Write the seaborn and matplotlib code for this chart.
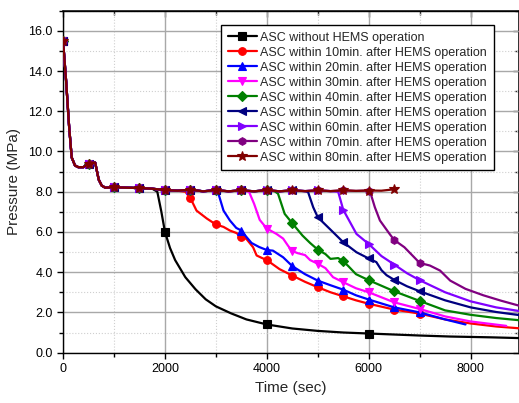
import matplotlib
matplotlib.use("Agg")
import matplotlib.pyplot as plt
import seaborn as sns
from matplotlib.ticker import MultipleLocator, FormatStrFormatter

# shared trace before any series splits off
BASE_T = [0, 60, 120, 170, 235, 300, 400, 500, 560, 630, 700, 760, 830, 1000, 1250, 1500, 1750,
          2000, 2250, 2500, 2750, 3000, 3250, 3500, 3750, 4000, 4250, 4500, 4750, 5000, 5250,
          5500, 5750, 6000, 6250, 6500]
BASE_P = [15.5, 13.5, 11.2, 9.7, 9.3, 9.22, 9.22, 9.4, 9.45, 9.45, 8.6, 8.3, 8.2, 8.22, 8.2, 8.18, 8.15,
          8.08, 8.05, 8.1, 8.02, 8.08, 8.02, 8.07, 8.02, 8.08, 8.02, 8.07, 8.03, 8.07, 8.03,
          8.07, 8.04, 8.06, 8.05, 8.12]

LABELS = ["ASC without HEMS operation",
          "ASC within 10min. after HEMS operation",
          "ASC within 20min. after HEMS operation",
          "ASC within 30min. after HEMS operation",
          "ASC within 40min. after HEMS operation",
          "ASC within 50min. after HEMS operation",
          "ASC within 60min. after HEMS operation",
          "ASC within 70min. after HEMS operation",
          "ASC within 80min. after HEMS operation"]
COLORS = ["#000000", "#ff0000", "#0000ff", "#ff00ff", "#008000", "#000080", "#8000ff", "#800080", "#800000"]
MARKERS = ["s", "o", "^", "v", "D", "<", ">", "h", "*"]
MARK_STEP = [2000, 500, 500, 500, 500, 500, 500, 500, 500]
# last shared time before each curve departs
SPLIT = [1750, 2250, 3000, 3500, 4000, 4750, 5250, 6000, 6500]

T_BLACK = [1850, 1930, 2000, 2100, 2200, 2400, 2600, 2800, 3000, 3300, 3600, 4000, 4500, 5000, 5500, 6000, 7000, 7600, 8400, 9000]
P_BLACK = [8.0, 7.0, 6.0, 5.2, 4.6, 3.75, 3.15, 2.65, 2.3, 1.95, 1.65, 1.4, 1.2, 1.08, 1.0, 0.95, 0.85, 0.8, 0.76, 0.72]
T_10 = [2400, 2500, 2620, 2820, 3000, 3150, 3275, 3400, 3500, 3600, 3730, 3800, 3900, 4000, 4250, 4500, 4750, 5000,
        5250, 5500, 5750, 6000, 6500, 7000, 7500, 8000, 8500, 9000]
P_10 = [8.0, 7.68, 7.06, 6.67, 6.37, 6.25, 6.07, 5.95, 5.77, 5.65, 5.24, 4.83, 4.71, 4.6, 4.15, 3.83, 3.52, 3.25,
        3.0, 2.8, 2.6, 2.43, 2.14, 1.94, 1.65, 1.45, 1.3, 1.2]
T_20 = [3050, 3150, 3275, 3400, 3500, 3600, 3700, 3850, 4000, 4120, 4320, 4500, 4750, 5000, 5250, 5500, 5750, 6000,
        6500, 7000, 7500, 7900]
P_20 = [7.9, 7.06, 6.57, 6.2, 6.07, 5.75, 5.45, 5.25, 5.1, 5.07, 4.74, 4.3, 3.9, 3.58, 3.35, 3.13, 2.85, 2.64,
        2.25, 2.0, 1.65, 1.4]
T_30 = [3650, 3750, 3860, 4000, 4190, 4320, 4420, 4500, 4600, 4750, 4850, 5000, 5150, 5300, 5500, 5750, 6000,
        6500, 7000, 7500, 8000, 8700]
P_30 = [8.0, 7.4, 6.6, 6.17, 5.9, 5.67, 5.3, 5.05, 4.95, 4.85, 4.6, 4.42, 4.2, 3.75, 3.5, 3.2, 3.0,
        2.5, 2.17, 1.8, 1.55, 1.33]
T_40 = [4150, 4220, 4350, 4500, 4700, 4850, 5000, 5150, 5250, 5400, 5500, 5600, 5750, 6000, 6500, 7000, 7500,
        8000, 8500, 9000]
P_40 = [8.03, 7.9, 6.9, 6.43, 5.82, 5.45, 5.12, 4.9, 4.66, 4.7, 4.54, 4.3, 3.9, 3.6, 3.05, 2.57, 2.1,
        1.88, 1.72, 1.6]
T_50 = [4810, 4910, 5000, 5235, 5500, 5760, 6000, 6150, 6250, 6350, 6500, 6750, 7000, 7500, 8000, 8500, 9000]
P_50 = [7.98, 7.23, 6.73, 6.15, 5.49, 4.99, 4.68, 4.5, 4.1, 3.85, 3.62, 3.3, 3.05, 2.6, 2.25, 2.02, 1.85]
T_60 = [5400, 5430, 5500, 5760, 6000, 6250, 6500, 6750, 7000, 7500, 8000, 8500, 9000]
P_60 = [8.0, 7.73, 7.1, 5.9, 5.4, 4.8, 4.38, 3.95, 3.6, 3.0, 2.55, 2.25, 2.05]
T_70 = [6020, 6120, 6220, 6410, 6500, 6700, 7000, 7200, 7400, 7600, 7900, 8250, 8600, 9000]
P_70 = [8.06, 7.23, 6.57, 5.9, 5.6, 5.24, 4.46, 4.33, 4.08, 3.58, 3.17, 2.85, 2.58, 2.3]
T_80 = []
P_80 = []

TAILS_T = [T_BLACK, T_10, T_20, T_30, T_40, T_50, T_60, T_70, T_80]
TAILS_P = [P_BLACK, P_10, P_20, P_30, P_40, P_50, P_60, P_70, P_80]

sns.set_theme(style="ticks")
plt.rcParams["font.family"] = ["Liberation Sans", "DejaVu Sans"]

fig = plt.figure(figsize=(5.19, 4.03), dpi=100)
ax = fig.add_axes([0.1215, 0.125, 0.8785, 0.8485])

for i in range(len(LABELS)):
    ts = [t for t in BASE_T if t <= SPLIT[i]] + TAILS_T[i]
    ps = [p for t, p in zip(BASE_T, BASE_P) if t <= SPLIT[i]] + TAILS_P[i]
    # markers stop at 7000 s in the original figure
    marks = [k for k, t in enumerate(ts) if t % MARK_STEP[i] == 0 and t <= 7000]
    ms = 7.5 if MARKERS[i] == "*" else 5.5
    sns.lineplot(x=ts, y=ps, ax=ax, color=COLORS[i], marker=MARKERS[i], markevery=marks,
                 markersize=ms, markeredgecolor=COLORS[i], markeredgewidth=0.8,
                 linewidth=1.6, label=LABELS[i], sort=False, zorder=3 + i)

ax.set_xlim(0, 8950)
ax.set_ylim(0, 17)
ax.xaxis.set_major_locator(MultipleLocator(2000))
ax.xaxis.set_minor_locator(MultipleLocator(1000))
ax.yaxis.set_major_locator(MultipleLocator(2))
ax.yaxis.set_minor_locator(MultipleLocator(1))
ax.yaxis.set_major_formatter(FormatStrFormatter("%.1f"))
ax.grid(which="major", color="#a8a8a8", linewidth=1.0, linestyle="-")
ax.grid(which="minor", color="#cfcfcf", linewidth=0.8, linestyle=":")
ax.set_axisbelow(True)

ax.tick_params(which="both", direction="out", labelsize=9, colors="black", width=1.0)
ax.tick_params(which="major", length=4)
ax.tick_params(which="minor", length=3)
for s in ax.spines.values():
    s.set_color("black")
    s.set_linewidth(1.0)

top = ax.secondary_xaxis("top")
top.xaxis.set_major_locator(MultipleLocator(2000))
top.xaxis.set_minor_locator(MultipleLocator(1000))
top.tick_params(which="both", direction="in", labeltop=False, width=1.0)
top.tick_params(which="major", length=4)
top.tick_params(which="minor", length=3)
right = ax.secondary_yaxis("right")
right.yaxis.set_major_locator(MultipleLocator(2))
right.yaxis.set_minor_locator(MultipleLocator(1))
right.tick_params(which="both", direction="in", labelright=False, width=1.0)
right.tick_params(which="major", length=4)
right.tick_params(which="minor", length=3)

ax.set_xlabel("Time (sec)", fontsize=11)
ax.set_ylabel("Pressure (MPa)", fontsize=11, labelpad=5)

leg = ax.legend(loc="upper right", bbox_to_anchor=(0.945, 0.959), borderaxespad=0, fontsize=9,
                frameon=True, fancybox=False, edgecolor="black", framealpha=1,
                labelspacing=0.24, handlelength=2.3, handletextpad=0.3, borderpad=0.55)
leg.get_frame().set_linewidth(1.0)

fig.savefig("out.png", dpi=100)
